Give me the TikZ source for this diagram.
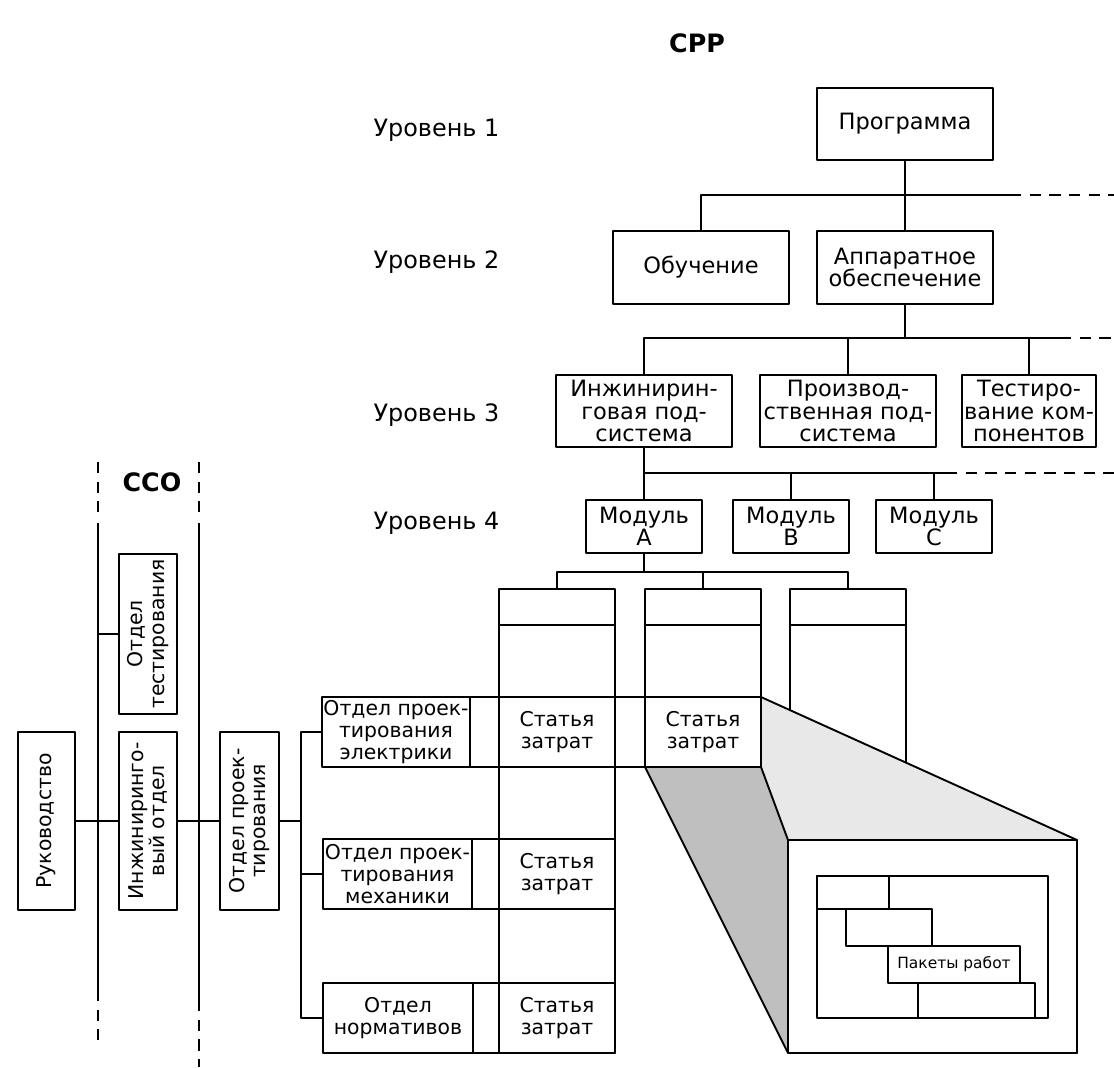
\documentclass[tikz,border=0pt]{standalone}
\usepackage{fontspec}
\setmainfont{DejaVu Sans}
\tikzset{
  box/.style={draw, align=center, inner sep=0pt, outer sep=0pt},
  sz/.style 2 args={minimum width=#1*0.25mm, minimum height=#2*0.25mm},
  big/.style={font=\fontsize{16}{16}\selectfont},
  dsh/.style={dash pattern=on 8pt off 6pt},
}
\begin{document}
\begin{tikzpicture}[x=0.25mm, y=-0.25mm, line width=1.35pt, line join=round,
  font=\fontsize{14.5}{15.5}\selectfont]
\useasboundingbox (0,0) rectangle (1114,1067);
% СРР
\node[font=\fontsize{18}{18}\selectfont\bfseries] (srr) at (697,43) {СРР};
\foreach \n/\y in {1/130,2/262,3/415,4/523}
  \node[font=\fontsize{17}{17}\selectfont, anchor=west] (lev\n) at (368,\y) {Уровень \n};
\node[box, big, sz={176}{72}] (prog) at (905,124) {Программа};
\node[box, big, sz={176}{73}] (obuch) at (701,267.5) {Обучение};
\node[box, big, sz={176}{73}] (appar) at (905,267.5) {Аппаратное\\обеспечение};
\node[box, big, sz={176}{72}] (inzh) at (644,411) {Инжинирин-\\говая под-\\система};
\node[box, big, sz={176}{72}] (proizv) at (848,411) {Производ-\\ственная под-\\система};
\node[box, big, sz={134}{72}] (test) at (1029,411) {Тестиро-\\вание ком-\\понентов};
\node[box, big, sz={116}{53}] (modA) at (644,526.5) {Модуль\\А};
\node[box, big, sz={116}{53}] (modB) at (791,526.5) {Модуль\\В};
\node[box, big, sz={116}{53}] (modC) at (934,526.5) {Модуль\\С};
% уровень 2
\coordinate (b2) at (1010,195);
\draw (prog) -- (appar);
\draw (obuch.north) |- (b2);
\draw[dsh] (b2) -- ++(104,0);
% уровень 3
\coordinate (b3) at (1060,338);
\draw (appar.south) -- (appar.south |- b3);
\draw (inzh.north) |- (b3);
\draw (proizv.north) -- (proizv.north |- b3);
\draw (test.north) -- (test.north |- b3);
\draw[dsh] (b3) -- ++(54,0);
% уровень 4
\coordinate (b4) at (946,473);
\draw (inzh) -- (modA);
\draw (modA.north |- b4) -- (b4);
\draw (modB.north) -- (modB.north |- b4);
\draw (modC.north) -- (modC.north |- b4);
\draw[dsh] (b4) -- ++(168,0);
% столбцы
\node[box, sz={116}{464}] (col1) at (557,821) {};
\node[box, sz={116}{178}] (col2) at (703,678) {};
\node[box, sz={116}{251}] (col3) at (848,714.5) {};
\coordinate (sub) at (0,625);
\foreach \c in {col1,col2,col3}
  \draw (\c.west |- sub) -- (\c.east |- sub);
\coordinate (b5) at (848,572);
\draw (modA) -- (modA |- b5);
\draw (col1.north) |- (b5) -- (col3.north);
\draw (col2.north) -- (col2.north |- b5);
% строки
\node[box, sz={148}{70}] (elec) at (396,732) {Отдел проек-\\тирования\\электрики};
\node[box, sz={149}{70}] (mech) at (397.5,874) {Отдел проек-\\тирования\\механики};
\node[box, sz={150}{70}] (norm) at (398,1018) {Отдел\\нормативов};
\node[box, sz={116}{70}] (cost11) at (557,732) {Статья\\затрат};
\node[box, sz={116}{70}] (cost12) at (703,732) {Статья\\затрат};
\node[box, sz={116}{70}] (cost21) at (557,874) {Статья\\затрат};
\node[box, sz={116}{70}] (cost31) at (557,1018) {Статья\\затрат};
\draw (elec.north east) -- (cost11.north west) (cost11.north east) -- (cost12.north west);
\draw (elec.south east) -- (cost11.south west) (cost11.south east) -- (cost12.south west);
\draw (mech.north east) -- (cost21.north west) (mech.south east) -- (cost21.south west);
\draw (norm.north east) -- (cost31.north west) (norm.south east) -- (cost31.south west);
% ССО
\node[font=\fontsize{18}{18}\selectfont\bfseries] (sso) at (152,482) {ССО};
\node[box, rotate=90, sz={178}{57}] (ruk) at (46.5,821) {Руководство};
\node[box, rotate=90, sz={178}{58}] (inzhotd) at (148,821) {Инжиниринго-\\вый отдел};
\node[box, rotate=90, sz={178}{59}] (proj) at (249.5,821) {Отдел проек-\\тирования};
\node[box, rotate=90, sz={160}{58}] (testotd) at (148,634) {Отдел\\тестирования};
\coordinate (sL) at (98,523);
\coordinate (sR) at (199,523);
\draw[dsh] (98,462) -- (98,512) (199,462) -- (199,512);
\draw (sL) -- (98,990) (sR) -- (199,1000);
\draw[dsh] (98,990) -- (98,1040) (199,1000) -- (199,1067);
\draw (ruk) -- (inzhotd);
\draw (inzhotd) -- (proj);
\draw (testotd) -- (testotd -| sL);
\coordinate (bus) at (301,821);
\draw (proj) -- (bus);
\draw (elec.west) -| (bus) |- (norm.west);
\draw (mech.west) -- (mech.west -| bus);
% пакеты работ
\node[box, fill=white, sz={289}{213}] (pkg) at (932.5,946.5) {};
\fill[black!9] (cost12.north east) -- (pkg.north east) -- (pkg.north west) -- (cost12.south east) -- cycle;
\fill[black!25] (cost12.south west) -- (cost12.south east) -- (pkg.north west) -- (pkg.south west) -- cycle;
\draw (cost12.north east) -- (pkg.north east);
\draw (cost12.south east) -- (pkg.north west);
\draw (cost12.south west) -- (pkg.south west);
\draw (cost12.north west) rectangle (cost12.south east);
\draw (pkg.north west) rectangle (pkg.south east);
\node[box, sz={231}{142}] (inner) at (932.5,947) {};
\node[box, sz={72}{33}] (bar1) at (853,892.5) {};
\node[box, sz={86}{37}] (bar2) at (889,927.5) {};
\node[box, sz={132}{37}, font=\fontsize{11}{11}\selectfont] (bar3) at (954,964.5) {Пакеты работ};
\node[box, sz={117}{35}] (bar4) at (976.5,1000.5) {};
\end{tikzpicture}
\end{document}
